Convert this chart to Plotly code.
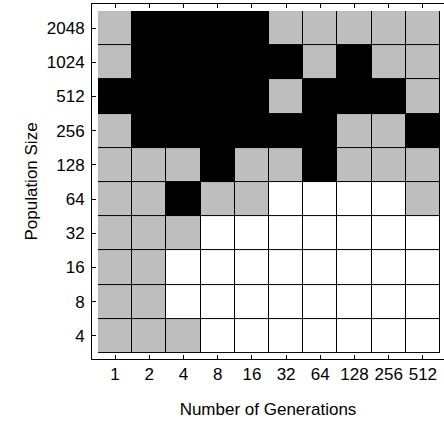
import plotly.graph_objects as go

generations = ["1", "2", "4", "8", "16", "32", "64", "128", "256", "512"]
population = ["4", "8", "16", "32", "64", "128", "256", "512", "1024", "2048"]

# 0 = white, 1 = gray, 2 = black ; rows listed from population 4 (bottom) to 2048 (top)
row_4    = [1, 1, 1, 0, 0, 0, 0, 0, 0, 0]
row_8    = [1, 1, 0, 0, 0, 0, 0, 0, 0, 0]
row_16   = [1, 1, 0, 0, 0, 0, 0, 0, 0, 0]
row_32   = [1, 1, 1, 0, 0, 0, 0, 0, 0, 0]
row_64   = [1, 1, 2, 1, 1, 0, 0, 0, 0, 1]
row_128  = [1, 1, 1, 2, 1, 1, 2, 1, 1, 1]
row_256  = [1, 2, 2, 2, 2, 2, 2, 1, 1, 2]
row_512  = [2, 2, 2, 2, 2, 1, 2, 2, 2, 1]
row_1024 = [1, 2, 2, 2, 2, 2, 1, 2, 1, 1]
row_2048 = [1, 2, 2, 2, 2, 1, 1, 1, 1, 1]

z = [row_4, row_8, row_16, row_32, row_64, row_128, row_256, row_512, row_1024, row_2048]
xi = list(range(len(generations)))
yi = list(range(len(population)))

FONT = "Liberation Sans, Arial, sans-serif"

fig = go.Figure()
# black base so the gaps between cells render as black grid lines
fig.add_trace(go.Heatmap(
    z=[[1] * len(xi) for _ in yi], x=xi, y=yi,
    colorscale=[[0, "black"], [1, "black"]], showscale=False, hoverinfo="skip"))
fig.add_trace(go.Heatmap(
    z=z, x=xi, y=yi, zmin=0, zmax=2, xgap=1, ygap=1,
    colorscale=[[0, "white"], [0.3333, "white"], [0.3334, "#bebebe"],
                [0.6666, "#bebebe"], [0.6667, "black"], [1, "black"]],
    showscale=False))

fig.update_layout(
    width=444, height=422,
    margin=dict(l=92, r=0, t=4, b=63),
    plot_bgcolor="white", paper_bgcolor="white",
    font=dict(family=FONT, size=17, color="black"),
    xaxis=dict(
        range=[-0.675, 9.617], tickmode="array", tickvals=xi, ticktext=generations,
        showgrid=False, zeroline=False, showline=True, linecolor="black", linewidth=1,
        mirror="allticks", ticks="inside", ticklen=4, tickcolor="black",
        ticklabelstandoff=0, automargin=False,
        title=dict(text="Number of Generations", standoff=19, font=dict(size=17))),
    yaxis=dict(
        range=[-0.675, 9.705], tickmode="array", tickvals=yi, ticktext=population,
        showgrid=False, zeroline=False, showline=True, linecolor="black", linewidth=1,
        mirror=False, ticks="inside", ticklen=4, tickcolor="black",
        ticklabelstandoff=3, automargin=False,
        title=dict(text="Population Size", standoff=4, font=dict(size=17))),
)

fig.write_html("out.html", config={"displayModeBar": False},
               post_script="document.body.style.margin='0';")
